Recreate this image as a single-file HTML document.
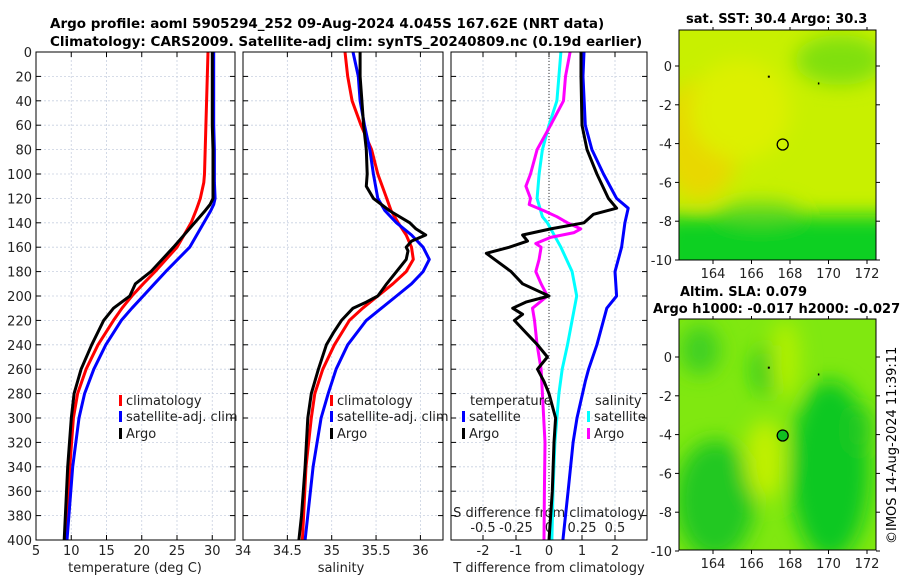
<!DOCTYPE html>
<html><head><meta charset="utf-8"><style>
body{margin:0;background:#fff;}
svg text{font-family:"DejaVu Sans","Liberation Sans",sans-serif;}
</style></head><body>
<svg id="c" width="900" height="580" xmlns="http://www.w3.org/2000/svg">
<defs>
<filter id="bl1" x="-50%" y="-50%" width="200%" height="200%"><feGaussianBlur stdDeviation="10"/></filter>
<clipPath id="cm1"><rect x="679" y="30" width="197" height="230"/></clipPath>
<clipPath id="cm2"><rect x="679" y="319" width="197" height="231"/></clipPath>
</defs>
<text x="50" y="28" font-size="13.5" font-weight="bold">Argo profile: aoml 5905294_252 09-Aug-2024 4.045S 167.62E (NRT data)</text>
<text x="50" y="46" font-size="13.5" font-weight="bold">Climatology: CARS2009. Satellite-adj clim: synTS_20240809.nc (0.19d earlier)</text>
<g id="g"></g>
<g clip-path="url(#cm1)">
<rect x="679" y="30" width="197" height="230" fill="#c8f000"/>
<g filter="url(#bl1)">
<ellipse cx="700" cy="140" rx="40" ry="60" fill="#e8d800"/>
<ellipse cx="740" cy="110" rx="50" ry="50" fill="#ddf000"/>
<ellipse cx="840" cy="60" rx="45" ry="25" fill="#80e010"/>
<rect x="660" y="215" width="240" height="70" fill="#10d020"/>
<ellipse cx="760" cy="212" rx="40" ry="10" fill="#60d820"/>
</g>
</g>
<g clip-path="url(#cm2)">
<rect x="679" y="319" width="197" height="231" fill="#80e810"/>
<g filter="url(#bl1)">
<ellipse cx="768" cy="370" rx="15" ry="25" fill="#10c820"/>
<ellipse cx="830" cy="470" rx="40" ry="90" fill="#10c820"/>
<ellipse cx="715" cy="500" rx="40" ry="60" fill="#20c820"/>
<ellipse cx="700" cy="350" rx="20" ry="25" fill="#40d020"/>
<ellipse cx="765" cy="460" rx="20" ry="40" fill="#c0f000"/>
<ellipse cx="785" cy="360" rx="15" ry="40" fill="#b0f000"/>
<ellipse cx="860" cy="430" rx="12" ry="25" fill="#20c820"/>
</g>
</g>
<g id="maps"></g>
<text transform="translate(896,544) rotate(-90)" font-size="13">©IMOS 14-Aug-2024 11:39:11</text>
</svg>
<script>
// ---- data ----
const tDepths=[0,20,40,60,80,100,107,120,125,130,140,160,180,190,200,210,220,240,260,280,300,340,400];
const tempClim=[29.4,29.3,29.2,29.1,29.0,28.9,28.8,28.3,28.0,27.7,27.0,25.0,21.9,20.2,18.6,17.2,16.0,13.8,12.1,10.9,10.3,9.8,9.3];
const tempSat=[30.2,30.2,30.2,30.2,30.3,30.3,30.3,30.4,30.2,29.8,28.8,26.8,23.4,21.8,20.2,18.6,17.1,14.9,13.2,11.9,11.1,10.2,9.4];
const tempArgo=[30.0,30.0,30.0,30.0,30.1,30.1,30.1,30.1,29.7,29.0,27.5,24.5,21.3,19.1,18.3,16.0,14.6,12.9,11.4,10.4,10.0,9.5,9.0];
const sDepths=[0,20,40,60,80,100,120,130,140,150,160,170,180,190,200,210,220,240,260,280,300,340,400];
const salClim=[35.15,35.18,35.23,35.33,35.45,35.52,35.62,35.67,35.75,35.84,35.9,35.92,35.84,35.69,35.52,35.35,35.2,35.03,34.9,34.81,34.77,34.71,34.67];
const salSat=[35.24,35.3,35.32,35.37,35.43,35.47,35.52,35.6,35.73,35.9,36.03,36.1,36.03,35.9,35.73,35.56,35.39,35.18,35.05,34.96,34.88,34.79,34.7];
const salArgoD=[0,20,40,60,80,100,110,120,130,140,145,150,155,160,163,170,180,190,200,205,210,220,230,240,260,280,300,340,380,400];
const salArgo=[35.32,35.32,35.34,35.36,35.39,35.4,35.39,35.47,35.65,35.88,35.95,36.06,35.9,35.84,35.86,35.84,35.73,35.62,35.52,35.39,35.24,35.11,35.02,34.94,34.85,34.77,34.73,34.7,34.66,34.63];
const dTSatD=[0,20,60,80,100,120,128,140,160,180,200,210,220,240,260,270,300,320,360,400];
const dT_sat=[1.06,1.03,1.1,1.3,1.65,2.05,2.4,2.3,2.2,2.0,2.05,1.75,1.65,1.45,1.2,1.1,0.85,0.73,0.58,0.42];
const dTArgoD=[0,20,60,80,100,120,128,133,140,145,150,155,160,165,170,180,190,200,205,210,215,220,230,240,250,260,270,280,300,320,360,400];
const dT_argo=[0.97,0.97,1.0,1.15,1.45,1.8,2.05,1.35,1.06,0.05,-0.8,-0.65,-1.2,-1.9,-1.65,-1.15,-0.8,0.0,-0.7,-1.1,-0.8,-1.05,-0.7,-0.35,-0.05,-0.35,-0.15,0.0,0.2,0.15,0.1,0.0];
const dSSatD=[0,20,40,60,80,100,120,135,140,160,180,200,220,240,260,280,320,360,400];
const dS_sat=[0.09,0.075,0.06,0.0,-0.05,-0.075,-0.09,-0.05,-0.012,0.09,0.175,0.21,0.175,0.14,0.1,0.075,0.045,0.03,0.022];
const dSArgoD=[0,20,40,60,80,100,110,120,125,130,135,140,145,148,152,157,160,170,180,190,200,210,220,240,260,280,320,360,400];
const dS_argo=[0.16,0.125,0.11,0.012,-0.09,-0.14,-0.175,-0.14,-0.15,-0.04,0.06,0.14,0.24,0.19,0.012,-0.1,-0.06,-0.075,-0.1,-0.06,-0.012,-0.125,-0.11,-0.09,-0.06,-0.05,-0.03,-0.035,-0.038];
const tempTicks=[5,10,15,20,25,30];
const salTicks=[34,34.5,35,35.5,36];
const dTTicks=[-2,-1,0,1,2];
const dSTicks=[-0.5,-0.25,0,0.25,0.5];
const depthTicks=[0,20,40,60,80,100,120,140,160,180,200,220,240,260,280,300,320,340,360,380,400];
const lonTicks=[164,166,168,170,172];
const latTicks=[0,-2,-4,-6,-8,-10];

const NS='http://www.w3.org/2000/svg';
const G=document.getElementById('g');
function mk(t,a,p){const e=document.createElementNS(NS,t);for(const k in a)e.setAttribute(k,a[k]);(p||G).appendChild(e);return e;}
const Y=d=>52+d*(488/400);
const xT=t=>36+(t-5)*7.05;
const xS=s=>243+(s-34)*88.7;
const xD=t=>549+t*33;
const xDS=s=>549+s*4*33;
const panels=[[36,235],[243,443],[451,647]];
panels.forEach(([l,r],i)=>{
  depthTicks.forEach(d=>{
    const gl=mk('line',{x1:l,x2:r,y1:Y(d),y2:Y(d),stroke:'#c8d0e0','stroke-dasharray':'2,2','stroke-width':0.8});
    
    
    mk('line',{x1:l,x2:l+5,y1:Y(d),y2:Y(d),stroke:'#000'});
    mk('line',{x1:r-5,x2:r,y1:Y(d),y2:Y(d),stroke:'#000'});
    if(i==0){const t=mk('text',{x:l-4,y:Y(d)+5,'font-size':13,'text-anchor':'end',fill:'#222'});t.textContent=d;
      
      }
  });
});
function xgrid(ticks,f,l,r){ticks.forEach(v=>{const x=f(v);if(x<l-1||x>r+1)return;
  mk('line',{x1:x,x2:x,y1:52,y2:540,stroke:'#c8d0e0','stroke-dasharray':'2,2','stroke-width':0.8});
  mk('line',{x1:x,x2:x,y1:535,y2:540,stroke:'#000'});mk('line',{x1:x,x2:x,y1:52,y2:57,stroke:'#000'});});}
xgrid(tempTicks,xT,36,235);xgrid(salTicks,xS,243,443);xgrid(dTTicks,xD,451,647);
function xlabels(ticks,f,y,name){ticks.forEach(v=>{const t=mk('text',{x:f(v),y:y,'font-size':13,'text-anchor':'middle',fill:'#222'});t.textContent=v;
  
  });}
xlabels(tempTicks,xT,555,'temp-tick-label');xlabels(salTicks,xS,555,'sal-tick-label');xlabels(dTTicks,xD,555,'dt-tick-label');
xlabels(dSTicks,xDS,532,'ds-tick-label');
[['temperature (deg C)',135],['salinity',341],['T difference from climatology',549]].forEach(([s,x])=>{const t=mk('text',{x:x,y:572,'font-size':13,'text-anchor':'middle',fill:'#222'});t.textContent=s;
  
  });
{const t=mk('text',{x:549,y:517,'font-size':13,'text-anchor':'middle',fill:'#222'});t.textContent='S difference from climatology';
  
  }
mk('line',{x1:549,x2:549,y1:52,y2:540,stroke:'#333','stroke-dasharray':'1,2','stroke-width':1});
function line(ds,vs,f,col,name,clipId){const pts=ds.map((d,i)=>f(vs[i]).toFixed(1)+','+Y(d).toFixed(1)).join(' ');
  const p=mk('polyline',{points:pts,fill:'none',stroke:col,'stroke-width':3,'stroke-linejoin':'round','clip-path':'url(#'+clipId+')'});
  
  }
panels.forEach(([l,r],i)=>{const cp=mk('clipPath',{id:'pc'+i});mk('rect',{x:l,y:52,width:r-l,height:488},cp);});
line(tDepths,tempClim,xT,'#f00','temp-climatology-line','pc0');
line(tDepths,tempSat,xT,'#00f','temp-satellite-line','pc0');
line(tDepths,tempArgo,xT,'#000','temp-argo-line','pc0');
line(sDepths,salClim,xS,'#f00','sal-climatology-line','pc1');
line(sDepths,salSat,xS,'#00f','sal-satellite-line','pc1');
line(salArgoD,salArgo,xS,'#000','sal-argo-line','pc1');
line(dTSatD,dT_sat,xD,'#00f','dt-satellite-line','pc2');
line(dSSatD,dS_sat,xDS,'#0ff','ds-satellite-line','pc2');
line(dSArgoD,dS_argo,xDS,'#f0f','ds-argo-line','pc2');
line(dTArgoD,dT_argo,xD,'#000','dt-argo-line','pc2');
panels.forEach(([l,r])=>{const b=mk('rect',{x:l,y:52,width:r-l,height:488,fill:'none',stroke:'#000','stroke-width':1});
  
  });
function leg(x,y,col,s){mk('rect',{x:x,y:y-10,width:3,height:11,fill:col});const t=mk('text',{x:x+7,y:y,'font-size':13,fill:'#222'});t.textContent=s;
  
  }
[[119,'#f00','climatology',405],[119,'#00f','satellite-adj. clim',421],[119,'#000','Argo',438]].forEach(a=>leg(a[0],a[3],a[1],a[2]));
[[330,'#f00','climatology',405],[330,'#00f','satellite-adj. clim',421],[330,'#000','Argo',438]].forEach(a=>leg(a[0],a[3],a[1],a[2]));
{const t=mk('text',{x:470,y:405,'font-size':13,fill:'#222'});t.textContent='temperature';}
{const t=mk('text',{x:595,y:405,'font-size':13,fill:'#222'});t.textContent='salinity';}
leg(462,421,'#00f','satellite');leg(462,438,'#000','Argo');
leg(587,421,'#0ff','satellite');leg(587,438,'#f0f','Argo');
const M=document.getElementById('maps');
const mx=lon=>713+(lon-164)*19.25;
[[30,260,66,'map1'],[319,550,357,'map2']].forEach(([top,bot,y0,nm])=>{
  const my=lat=>y0-lat*19.4;
  mk('rect',{x:679,y:top,width:197,height:bot-top,fill:'none',stroke:'#000'},M);
  lonTicks.forEach(v=>{mk('line',{x1:mx(v),x2:mx(v),y1:bot,y2:bot+4,stroke:'#000'},M);mk('line',{x1:mx(v),x2:mx(v),y1:top,y2:top-3,stroke:'#000'},M);
    const t=mk('text',{x:mx(v),y:bot+18,'font-size':13,'text-anchor':'middle',fill:'#222'},M);t.textContent=v;
    
    });
  latTicks.forEach(v=>{mk('line',{x1:675,x2:679,y1:my(v),y2:my(v),stroke:'#000'},M);mk('line',{x1:876,x2:880,y1:my(v),y2:my(v),stroke:'#000'},M);
    const t=mk('text',{x:672,y:my(v)+5,'font-size':13,'text-anchor':'end',fill:'#222'},M);t.textContent=v;
    
    });
  const c=mk('circle',{cx:mx(167.62),cy:my(-4.045),r:5.5,fill:nm=='map2'?'#10c020':'none',stroke:'#000','stroke-width':1.3},M);
  
  
  mk('rect',{x:mx(166.9)-1,y:my(-0.55)-1,width:2,height:2,fill:'#000'},M);
  mk('rect',{x:mx(169.5)-1,y:my(-0.9)-1,width:1.5,height:2,fill:'#000'},M);
});
[['sat. SST: 30.4  Argo: 30.3',686,23],['Altim. SLA: 0.079',680,296],['Argo h1000: -0.017 h2000: -0.027',653,313]].forEach(([s,x,y])=>{
  const t=mk('text',{x:x,y:y,'font-size':13,'font-weight':'bold',fill:'#000'},M);t.textContent=s;
  
  });
</script>
</body></html>
